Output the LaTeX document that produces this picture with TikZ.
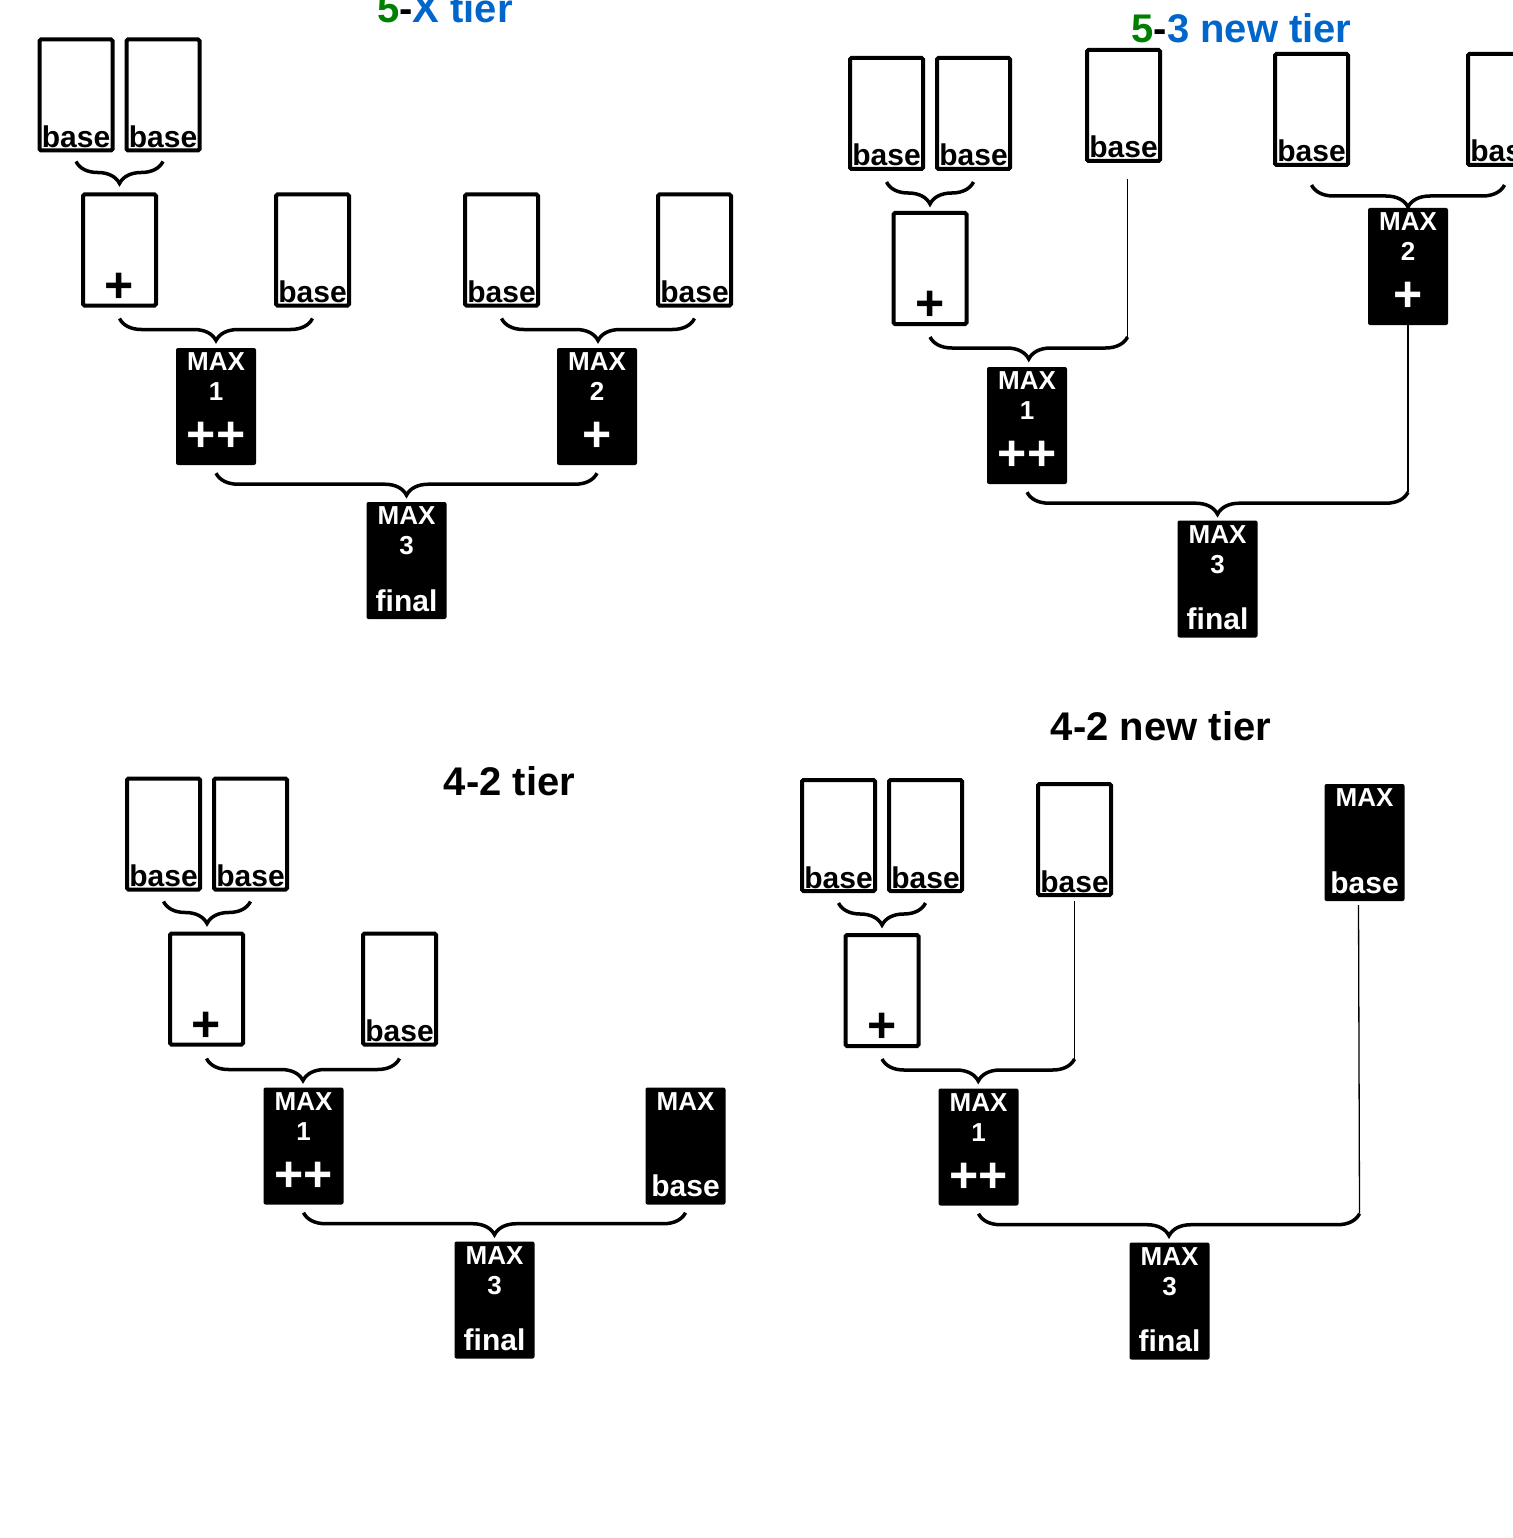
\documentclass[tikz,border=0pt]{standalone}
\usepackage{fontspec}
\setmainfont{Liberation Sans}
\usepackage{xcolor}
\usepackage{tikz}
\usetikzlibrary{positioning,calc,decorations.pathreplacing}

\definecolor{tiergreen}{RGB}{0,128,0}
\definecolor{tierblue}{RGB}{0,102,204}
\newcommand\cardfont{\fontsize{30}{32}\selectfont\bfseries}
\newcommand\headfont{\fontsize{26}{28}\selectfont\bfseries}
\newcommand\digitfont{\fontsize{26}{28}\selectfont\bfseries}
\newcommand\signfont{\fontsize{50}{52}\selectfont\bfseries}
\newcommand\tierfont{\fontsize{40}{44}\selectfont\bfseries}

\begin{document}
\begin{tikzpicture}[x=1pt, y=-1pt,
    card/.style={draw, line width=4, minimum width=73, minimum height=111, inner sep=0, rounded corners=1.5},
    txt/.style={inner sep=0, font=\cardfont},
    wtxt/.style={inner sep=0, text=white},
    basecard/.style={card, label={[txt, anchor=base, yshift=5]south:base}},
    pluscard/.style={card, label={[inner sep=0, font=\signfont, anchor=center, yshift=20]south:+}},
    maxbox/.style={fill=black, minimum width=80, minimum height=117, inner sep=0, rounded corners=2,
        label={[wtxt, font=\headfont, anchor=center, yshift=-14]north:MAX}},
    num/.style={label={[wtxt, font=\digitfont, anchor=center, yshift=-44]north:#1}},
    sign/.style={label={[wtxt, font=\signfont, anchor=center, yshift=28]south:#1}},
    foot/.style={label={[wtxt, font=\cardfont, anchor=base, yshift=8]south:#1}},
    brc/.style={line width=3.5, decorate, decoration={brace, mirror, amplitude=22}},
    wire/.style={line width=1.3},
    tier/.style={font=\tierfont, anchor=base}]
    \useasboundingbox (0,0) rectangle (1512,1538);

    % 5-X tier
    \node[tier] (t1) at (445,23) {\textcolor{tiergreen}{5}-\textcolor{tierblue}{X tier}};
    \node[basecard] (a1) at (76,95) {};
    \node[basecard] (a2) at (163,95) {};
    \node[pluscard] (a3) at (119.5,250) {};
    \node[basecard] (a4) at (312.5,250) {};
    \node[basecard] (a5) at (501.5,250) {};
    \node[basecard] (a6) at (694.5,250) {};
    \node[maxbox, num=1, sign=++] (am1) at (216,406.5) {};
    \node[maxbox, num=2, sign=+] (am2) at (597,406.5) {};
    \node[maxbox, num=3, foot=final] (am3) at (406.5,560.5) {};
    \draw[brc] ([yshift=-9]a1.south) -- ([yshift=-9]a2.south);
    \draw[brc] ([yshift=-11]a3.south) -- ([yshift=-11]a4.south);
    \draw[brc] ([yshift=-11]a5.south) -- ([yshift=-11]a6.south);
    \draw[brc] ([yshift=-8]am1.south) -- ([yshift=-8]am2.south);

    % 5-3 new tier
    \node[tier] (t2) at (1241.5,43) {\textcolor{tiergreen}{5}-\textcolor{tierblue}{3 new tier}};
    \node[basecard] (b1) at (886.5,113.5) {};
    \node[basecard] (b2) at (973.5,113.5) {};
    \node[basecard] (b3) at (1123.5,105.5) {};
    \node[basecard] (b4) at (1311.5,109.5) {};
    \node[basecard] (b5) at (1504.5,109.5) {};
    \node[pluscard] (b6) at (930,268.5) {};
    \node[maxbox, num=2, sign=+] (bm2) at (1408,266.5) {};
    \node[maxbox, num=1, sign=++] (bm1) at (1027,425.5) {};
    \node[maxbox, num=3, foot=final] (bm3) at (1217.5,579) {};
    \coordinate (bj1) at ($(b3.south |- b6.south)+(4,11)$);
    \coordinate (bj2) at ($(bm2.south |- bm1.south)+(0,8)$);
    \draw[brc] ([yshift=-11]b1.south) -- ([yshift=-11]b2.south);
    \draw[brc] ([yshift=-18]b4.south) -- ([yshift=-18]b5.south);
    \draw[wire] (b3.south) ++(4,16) -- (bj1);
    \draw[brc] ([yshift=-11]b6.south) -- (bj1);
    \draw[wire] (bm2.south) -- (bj2);
    \draw[brc] ([yshift=-8]bm1.south) -- (bj2);

    % 4-2 tier
    \node[tier] (t3) at (509.5,795) {4-2 tier};
    \node[basecard] (c1) at (163.5,834) {};
    \node[basecard] (c2) at (250.5,834) {};
    \node[pluscard] (c3) at (206.5,989) {};
    \node[basecard] (c4) at (399.5,989) {};
    \node[maxbox, num=1, sign=++] (cm1) at (303.5,1146) {};
    \node[maxbox, foot=base] (cmb) at (685.5,1146) {};
    \node[maxbox, num=3, foot=final] (cm3) at (494.5,1300) {};
    \draw[brc] ([yshift=-10]c1.south) -- ([yshift=-10]c2.south);
    \draw[brc] ([yshift=-12]c3.south) -- ([yshift=-12]c4.south);
    \draw[brc] ([yshift=-8]cm1.south) -- ([yshift=-8]cmb.south);

    % 4-2 new tier
    \node[tier] (t4) at (1161,740) {4-2 new tier};
    \node[basecard] (d1) at (838.5,835.5) {};
    \node[basecard] (d2) at (925.5,835.5) {};
    \node[basecard] (d3) at (1074.5,839.5) {};
    \node[maxbox, foot=base] (dmb) at (1364.5,842.5) {};
    \node[pluscard] (d4) at (882,990.5) {};
    \node[maxbox, num=1, sign=++] (dm1) at (978.5,1147) {};
    \node[maxbox, num=3, foot=final] (dm3) at (1169.5,1301) {};
    \coordinate (dj1) at ($(d3.south |- d4.south)+(0,11)$);
    \coordinate (dj2) at ($(dmb.south |- dm1.south)+(-5,8)$);
    \draw[brc] ([yshift=-10]d1.south) -- ([yshift=-10]d2.south);
    \draw[wire] (d3.south) ++(0,4) -- (dj1);
    \draw[brc] ([yshift=-11]d4.south) -- (dj1);
    \draw[wire] (dmb.south) ++(-6,4) -- (dj2);
    \draw[brc] ([yshift=-8]dm1.south) -- (dj2);
\end{tikzpicture}
\end{document}
